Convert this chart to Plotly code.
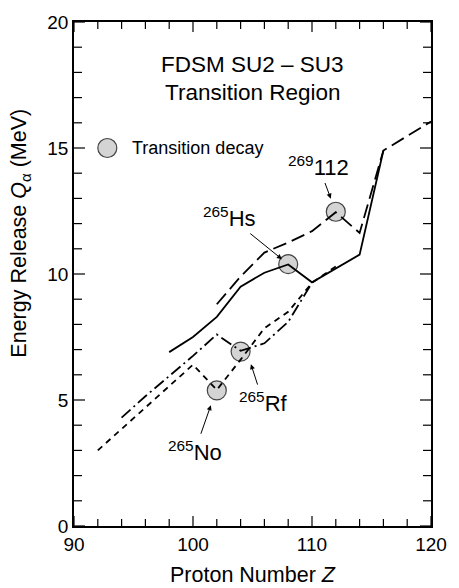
import plotly.graph_objects as go

# Alpha-decay energy release along four decay chains (FDSM SU2-SU3 transition region)
solid_z = [98, 100, 102, 104, 106, 108, 110, 114, 116]
solid_q = [6.9, 7.5, 8.3, 9.5, 10.05, 10.38, 9.67, 10.77, 14.9]

longdash_z = [102, 104, 106, 108, 110, 112, 114, 116, 120]
longdash_q = [8.8, 9.9, 10.85, 11.25, 11.7, 12.45, 11.63, 14.9, 16.05]

dashdot_z = [94, 96, 98, 100, 102, 104, 106, 108, 110]
dashdot_q = [4.3, 5.15, 5.95, 6.75, 7.6, 6.95, 7.25, 8.1, 9.65]

shortdash_z = [92, 94, 96, 98, 100, 102, 104, 106, 108, 110, 112]
shortdash_q = [3.0, 3.85, 4.7, 5.55, 6.4, 5.4, 6.6, 7.85, 8.5, 9.65, 10.3]

# Nuclei where the transition decay occurs
decay_z = [102, 104, 108, 112]
decay_q = [5.38, 6.92, 10.39, 12.47]
decay_labels = ["<sup>265</sup>No", "<sup>265</sup>Rf", "<sup>265</sup>Hs", "<sup>269</sup>112"]

# tick marks: labelled every 10 in Z and every 5 in Q, marks every 2 and 1
x_labels = [90, 100, 110, 120]
x_marks = list(range(90, 121, 2))
y_labels = [0, 5, 10, 15, 20]
y_marks = list(range(0, 21, 1))

FONT = "Liberation Sans, Arial, sans-serif"
CIRCLE = dict(size=19, color="#d4d4d4", line=dict(color="#444444", width=1.2))

fig = go.Figure()

# circles first so the curves are drawn over them
fig.add_trace(go.Scatter(x=decay_z, y=decay_q, mode="markers", marker=CIRCLE,
                         showlegend=False, hoverinfo="skip"))
fig.add_trace(go.Scatter(x=[92.8], y=[15.0], mode="markers", marker=CIRCLE,
                         showlegend=False, hoverinfo="skip"))

line_style = dict(color="black", width=1.8)
fig.add_trace(go.Scatter(x=solid_z, y=solid_q, mode="lines",
                         line=dict(**line_style), showlegend=False))
fig.add_trace(go.Scatter(x=longdash_z, y=longdash_q, mode="lines",
                         line=dict(**line_style, dash="14px,6px"), showlegend=False))
fig.add_trace(go.Scatter(x=dashdot_z, y=dashdot_q, mode="lines",
                         line=dict(**line_style, dash="12px,4px,2px,4px"), showlegend=False))
fig.add_trace(go.Scatter(x=shortdash_z, y=shortdash_q, mode="lines",
                         line=dict(**line_style, dash="6px,5px"), showlegend=False))

annotations = [
    dict(x=105, y=18.3, text="FDSM SU2 \u2013 SU3", showarrow=False,
         font=dict(size=22.5)),
    dict(x=105, y=17.2, text="Transition Region", showarrow=False,
         font=dict(size=22.5)),
    dict(x=94.7, y=15.0, text="Transition decay", showarrow=False,
         xanchor="left", font=dict(size=18)),
    # axis titles
    dict(xref="paper", yref="paper", x=0.5, y=0, yshift=-49, yanchor="middle",
         xanchor="center", text="Proton Number <i>Z</i>", showarrow=False,
         font=dict(size=21.5)),
    dict(xref="paper", yref="y", x=0, xshift=-53, xanchor="center", y=11.6,
         yanchor="middle", text="Energy Release <i>Q</i><sub>\u03b1</sub> (MeV)",
         textangle=-90, showarrow=False, font=dict(size=21.5)),
]

# nucleus labels, each with a pointer arrow to its circle
label_pos = [(100.15, 2.97), (105.9, 4.92), (103.07, 12.27), (110.55, 14.3)]
arrow_head = [(101.5, 4.79), (104.87, 6.42), (107.47, 10.59), (111.58, 12.99)]

for lab, (lx, ly), (hx, hy) in zip(decay_labels, label_pos, arrow_head):
    annotations.append(dict(x=hx, y=hy, ax=lx, ay=ly, axref="x", ayref="y",
                            text=lab, font=dict(size=22), showarrow=True,
                            arrowhead=2, arrowsize=1, arrowwidth=1,
                            arrowcolor="black", standoff=0, startstandoff=2))

# inward tick marks on all four sides of the frame, sized in pixels
TICK_LINE = dict(color="black", width=1.2)
shapes = []
for v in x_marks:
    length = 10 if v in x_labels else 7
    for edge, sign in ((0, 1), (1, -1)):
        shapes.append(dict(type="line", xref="x", yref="paper", ysizemode="pixel",
                           yanchor=edge, x0=v, x1=v, y0=0, y1=sign * length,
                           line=TICK_LINE, layer="above"))
for v in y_marks:
    length = 11 if v in y_labels else 8
    for edge, sign in ((0, 1), (1, -1)):
        shapes.append(dict(type="line", xref="paper", yref="y", xsizemode="pixel",
                           xanchor=edge, y0=v, y1=v, x0=0, x1=sign * length,
                           line=TICK_LINE, layer="above"))

frame = dict(showline=True, linecolor="black", linewidth=1.5, mirror=True,
             ticks="", showgrid=False, zeroline=False, tickfont=dict(size=19))

fig.update_layout(
    width=459, height=588,
    margin=dict(l=74, r=20, t=14, b=62),
    paper_bgcolor="white", plot_bgcolor="white",
    font=dict(family=FONT, color="black"),
    annotations=annotations,
    shapes=shapes,
    xaxis=dict(range=[90, 120], tickmode="array", tickvals=x_labels, **frame),
    yaxis=dict(range=[0, 20], tickmode="array", tickvals=y_labels, **frame),
)

fig.write_html("out.html")
